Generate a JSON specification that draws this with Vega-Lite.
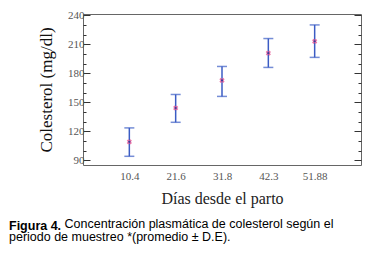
{
  "$schema": "https://vega.github.io/schema/vega-lite/v6.json",
  "width": 278,
  "height": 151,
  "autosize": {"type": "none"},
  "padding": {"left": 83, "top": 14, "right": 17, "bottom": 94},
  "background": "white",
  "config": {
    "view": {"stroke": "#666", "strokeWidth": 1},
    "font": "Liberation Serif"
  },
  "title": {
    "text": "Figura 4.",
    "subtitle": [
      "\u200b\u00a0\u00a0\u00a0\u00a0\u00a0\u00a0\u00a0\u00a0\u00a0\u00a0\u00a0\u00a0\u00a0\u00a0\u00a0\u00a0Concentración plasmática de colesterol según el",
      "periodo de muestreo *(promedio ± D.E)."
    ],
    "orient": "bottom",
    "anchor": "start",
    "frame": "group",
    "dx": -74,
    "offset": 14,
    "font": "Liberation Sans",
    "fontSize": 12.5,
    "fontWeight": "bold",
    "color": "#000",
    "subtitleFont": "Liberation Sans",
    "subtitleFontSize": 12.5,
    "subtitleColor": "#000",
    "subtitlePadding": -15,
    "subtitleLineHeight": 13.5
  },
  "data": {
    "values": [
      {"dias": "10.4", "media": 109, "inf": 94, "sup": 123.4},
      {"dias": "21.6", "media": 144, "inf": 129.2, "sup": 158},
      {"dias": "31.8", "media": 172.5, "inf": 156, "sup": 187},
      {"dias": "42.3", "media": 200.8, "inf": 186, "sup": 215.9},
      {"dias": "51.88", "media": 213, "inf": 196.4, "sup": 230}
    ]
  },
  "encoding": {
    "x": {
      "field": "dias",
      "type": "ordinal",
      "sort": null,
      "scale": {"type": "point", "padding": 1.2},
      "axis": {
        "title": "Días desde el parto",
        "titleFont": "Liberation Serif",
        "titleFontSize": 16,
        "titleFontWeight": "normal",
        "titleColor": "#222",
        "titlePadding": 9,
        "labelAngle": 0,
        "labelFont": "Liberation Serif",
        "labelFontSize": 11,
        "labelColor": "#555",
        "labelPadding": 5,
        "ticks": false,
        "domain": false
      }
    }
  },
  "layer": [
    {
      "mark": {
        "type": "errorbar",
        "ticks": {"size": 10, "thickness": 1.5, "color": "#3b5cc4"},
        "rule": {"strokeWidth": 1.5, "color": "#3b5cc4"}
      },
      "encoding": {
        "y": {
          "field": "inf",
          "type": "quantitative",
          "scale": {"domain": [85, 241.3], "nice": false, "zero": false},
          "axis": {
            "orient": "left",
            "title": "Colesterol (mg/dl)",
            "titleFont": "Liberation Serif",
            "titleFontSize": 17,
            "titleFontWeight": "normal",
            "titleColor": "#111",
            "titlePadding": 12,
            "values": [90, 100, 110, 120, 130, 140, 150, 160, 170, 180, 190, 200, 210, 220, 230, 240],
            "labelExpr": "datum.value % 30 === 0 ? datum.label : ''",
            "labelFont": "Liberation Serif",
            "labelFontSize": 11,
            "labelColor": "#555",
            "labelPadding": 6,
            "tickColor": "#333",
            "tickSize": {"condition": {"test": "datum.value % 30 === 0", "value": -7}, "value": -3},
            "grid": false,
            "domain": false
          }
        },
        "y2": {"field": "sup"}
      }
    },
    {
      "mark": {"type": "point", "shape": "cross", "angle": 45, "filled": true, "size": 28, "color": "#e8609a", "opacity": 0.85},
      "encoding": {
        "y": {
          "field": "media",
          "type": "quantitative",
          "axis": {
            "orient": "right",
            "title": null,
            "labels": false,
            "values": [90, 100, 110, 120, 130, 140, 150, 160, 170, 180, 190, 200, 210, 220, 230, 240],
            "tickColor": "#333",
            "tickSize": {"condition": {"test": "datum.value % 30 === 0", "value": -7}, "value": -3},
            "grid": false,
            "domain": false
          }
        }
      }
    },
    {
      "mark": {"type": "point", "shape": "circle", "filled": true, "size": 5, "color": "#3a3a9a", "opacity": 1},
      "encoding": {
        "y": {"field": "media", "type": "quantitative", "axis": null}
      }
    }
  ],
  "resolve": {"axis": {"y": "independent"}}
}
